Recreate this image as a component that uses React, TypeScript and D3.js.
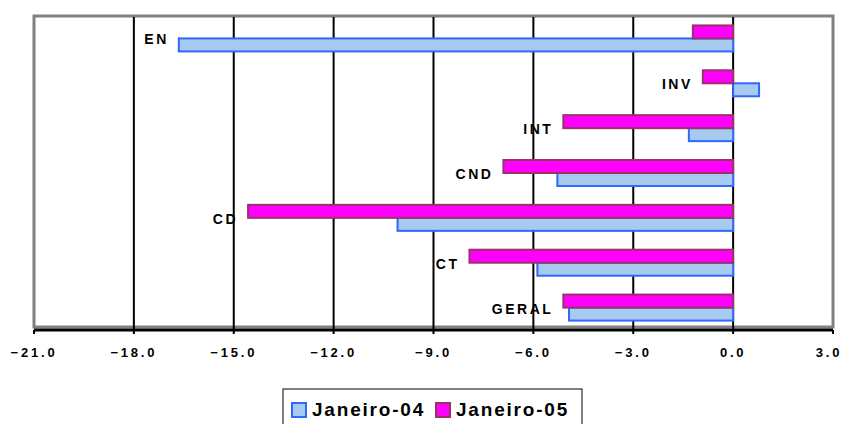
import React from 'react';
import * as d3 from 'd3';

const categories = ['EN', 'INV', 'INT', 'CND', 'CD', 'CT', 'GERAL'];
const jan04 = [-16.65, 0.78, -1.33, -5.28, -10.08, -5.88, -4.93];
const jan05 = [-1.21, -0.91, -5.1, -6.9, -14.57, -7.92, -5.1];
const seriesNames = ['Janeiro-04', 'Janeiro-05'];
const xTicks = [-21, -18, -15, -12, -9, -6, -3, 0, 3];

const W = 844;
const H = 424;
const plot = { left: 34, right: 833, top: 16, bottom: 330 };
const FONT = '"Liberation Sans", Arial, sans-serif';

const fills: Record<string, string> = { 'Janeiro-04': '#A6CAF0', 'Janeiro-05': '#FF00FF' };
const strokes: Record<string, string> = { 'Janeiro-04': '#3366FF', 'Janeiro-05': '#993366' };

export default function App() {
  const x = d3.scaleLinear().domain([-21, 3]).range([plot.left, plot.right]);
  const y = d3
    .scaleBand<string>()
    .domain(categories)
    .range([plot.top, plot.bottom])
    .paddingInner(0.42)
    .paddingOuter(0.21);
  // within a category, Janeiro-05 on top, Janeiro-04 below
  const sub = d3.scaleBand<string>().domain(['Janeiro-05', 'Janeiro-04']).range([0, y.bandwidth()]);
  const valuesBy: Record<string, number[]> = { 'Janeiro-04': jan04, 'Janeiro-05': jan05 };

  return (
    <svg
      width={W}
      height={H}
      style={{ position: 'absolute', left: 0, top: 0, background: '#fff' }}
      fontFamily={FONT}
    >
      <rect x={0} y={0} width={W} height={H} fill="#fff" />
      {/* plot area border */}
      <rect
        x={plot.left}
        y={plot.top}
        width={plot.right - plot.left}
        height={plot.bottom - plot.top - 3}
        fill="#fff"
        stroke="#808080"
        strokeWidth={3}
      />
      {/* gridlines */}
      {xTicks
        .filter((t) => t > -21 && t < 3)
        .map((t) => (
          <line key={'g' + t} x1={x(t)} x2={x(t)} y1={plot.top + 1} y2={plot.bottom} stroke="#000" strokeWidth={2} />
        ))}
      {/* bars */}
      {seriesNames.map((s) =>
        categories.map((c, i) => {
          const v = valuesBy[s][i];
          const x0 = Math.min(x(0), x(v));
          const w = Math.abs(x(v) - x(0));
          return (
            <rect
              key={s + c}
              x={x0}
              y={(y(c) as number) + (sub(s) as number)}
              width={w}
              height={sub.bandwidth()}
              fill={fills[s]}
              stroke={strokes[s]}
              strokeWidth={2}
            />
          );
        })
      )}
      {/* category labels */}
      {categories.map((c, i) => {
        const mn = Math.min(0, jan04[i], jan05[i]);
        return (
          <text
            key={'l' + c}
            x={x(mn) - 10}
            y={(y(c) as number) + y.bandwidth() / 2 + 6}
            textAnchor="end"
            fontSize={14}
            fontWeight="bold"
            letterSpacing={2.5}
            fill="#000"
          >
            {c}
          </text>
        );
      })}
      {/* axis */}
      <line x1={plot.left} x2={plot.right} y1={plot.bottom} y2={plot.bottom} stroke="#000" strokeWidth={3} />
      {xTicks.map((t) => (
        <g key={'t' + t}>
          <line x1={x(t)} x2={x(t)} y1={plot.bottom} y2={plot.bottom + 4} stroke="#000" strokeWidth={2} />
          <text
            x={x(t) - (t === 3 ? 4 : 0)}
            y={357}
            textAnchor="middle"
            fontSize={13}
            fontWeight="bold"
            letterSpacing={2.8}
            fill="#000"
          >
            {d3.format('.1f')(t)}
          </text>
        </g>
      ))}
      {/* legend */}
      <rect x={283} y={389} width={299} height={40} fill="#fff" stroke="#000" strokeWidth={1} />
      {seriesNames.map((s, i) => {
        const lx = i === 0 ? 292 : 436;
        return (
          <g key={'lg' + s}>
            <rect x={lx} y={403} width={14} height={14} fill={fills[s]} stroke={strokes[s]} strokeWidth={2} />
            <text x={lx + 20} y={416} fontSize={19} fontWeight="bold" letterSpacing={1.8} fill="#000">
              {s}
            </text>
          </g>
        );
      })}
    </svg>
  );
}
